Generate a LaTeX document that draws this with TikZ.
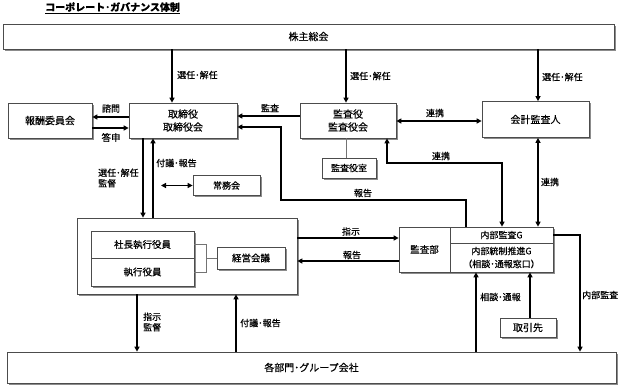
\documentclass[tikz,border=0pt]{standalone}
\usepackage{fontspec}
\setmainfont[FakeBold=0.35]{Noto Sans CJK JP}
\usetikzlibrary{arrows.meta,shadows}
\begin{document}
\begin{tikzpicture}[x=1pt,y=-1pt,
  box/.style={draw=black!70, line width=0.7pt, fill=white, inner sep=0pt, align=center,
    font=\fontsize{10}{13}\selectfont,
    drop shadow={shadow xshift=1.5pt, shadow yshift=-1.5pt, fill=black!45, opacity=1}},
  pbox/.style={draw=black!70, line width=0.7pt, fill=white, inner sep=0pt, align=center,
    font=\fontsize{9.5}{13}\selectfont},
  arr/.style={line width=1.4pt, -{Triangle[length=5pt,width=5pt]}},
  darr/.style={line width=1.4pt, {Triangle[length=5pt,width=5pt]}-{Triangle[length=5pt,width=5pt]}},
  lab/.style={font=\fontsize{9}{10.5}\selectfont, inner sep=0pt, align=left},
  gline/.style={draw=black!55, line width=0.5pt}]
\useasboundingbox (0,0) rectangle (620,388);

% title
\node[anchor=west, inner sep=0pt, font=\bfseries\fontsize{10}{12}\selectfont] (title) at (45,8) {\underline{コーポレート･ガバナンス体制}};

% boxes
\node[box, minimum width=611pt, minimum height=25pt] (kabu) at (308.5,36.5) {株主総会};
\node[box, minimum width=84pt, minimum height=35pt] (hoshu) at (50,120.5) {報酬委員会};
\node[box, minimum width=108pt, minimum height=35pt] (tori) at (183,120.5) {取締役\\取締役会};
\node[box, minimum width=96pt, minimum height=35pt] (kansa) at (348,120.5) {監査役\\監査役会};
\node[box, minimum width=107pt, minimum height=36pt] (kaikei) at (535.5,119.5) {会計監査人};
\node[box, minimum width=54pt, minimum height=20pt, font=\fontsize{9}{11}\selectfont] (shitsu) at (349,168) {監査役室};
\node[box, minimum width=67pt, minimum height=20pt, font=\fontsize{9}{11}\selectfont] (jomu) at (226.5,185.5) {常務会};

\node[box, minimum width=220pt, minimum height=76pt] (exec) at (187,256) {};
\node[box, minimum width=103pt, minimum height=55pt] (execin) at (142.5,258.5) {};
\node[pbox, minimum width=103pt, minimum height=27pt] (pres) at (142.5,244.5) {社長執行役員};
\node[pbox, minimum width=103pt, minimum height=28pt] (yakuin) at (142.5,272) {執行役員};
\node[box, minimum width=68pt, minimum height=22pt, font=\fontsize{9.5}{12}\selectfont] (keiei) at (251,258) {経営会議};

\node[box, minimum width=154pt, minimum height=45pt] (kbox) at (476,249.5) {};
\node[pbox, minimum width=51pt, minimum height=45pt] (kansabu) at (424.5,249.5) {監査部};
\node[pbox, minimum width=103pt, minimum height=16pt, font=\fontsize{9}{11}\selectfont] (naibu) at (501.5,235) {内部監査G};
\node[pbox, minimum width=103pt, minimum height=29pt, font=\fontsize{9}{13}\selectfont] (tosei) at (501.5,257.5) {内部統制推進G\\（相談･通報窓口）};

\node[box, minimum width=56pt, minimum height=19pt] (torihiki) at (528,327.5) {取引先};
\node[box, minimum width=609pt, minimum height=31pt] (kakubu) at (311.5,367.5) {各部門･グループ会社};

% helper coordinates
\coordinate (x172) at (172,0);
\coordinate (x346) at (346,0);
\coordinate (x538) at (538,0);
\coordinate (x143) at (143,0);
\coordinate (x153) at (153,0);
\coordinate (x137) at (137,0);
\coordinate (x236) at (236,0);
\coordinate (x476) at (476,0);
\coordinate (x530) at (530,0);
\coordinate (y118) at (0,117);
\coordinate (y128) at (0,128);
\coordinate (y116) at (0,116);
\coordinate (y121) at (0,121);
\coordinate (y238) at (0,238);
\coordinate (y261) at (0,261);
\coordinate (jl) at (161,185.5);
\coordinate (r1) at (466,200);
\coordinate (r2) at (281,200);
\coordinate (r3) at (281,127);
\coordinate (c1) at (502,163);
\coordinate (c2) at (387,163);
\coordinate (d1) at (580,235);
\coordinate (b1) at (206,244.5);
\coordinate (b2) at (206,272);

% thin connectors
\draw[gline] (kansa.south -| x346) -- (shitsu.north -| x346);
\draw[gline] (pres.east) -- (b1) -- (b2) -- (yakuin.east);
\draw[gline] (keiei.west -| b1) -- (keiei.west);

% arrows
\draw[arr] (kabu.south -| x172) -- (tori.north -| x172);
\draw[arr] (kabu.south -| x346) -- (kansa.north -| x346);
\draw[arr] (kabu.south -| x538) -- (kaikei.north -| x538);
\draw[arr] (tori.west |- y118) -- (hoshu.east |- y118);
\draw[arr] (hoshu.east |- y128) -- (tori.west |- y128);
\draw[arr] (kansa.west |- y116) -- (tori.east |- y116);
\draw[darr] (kansa.east |- y121) -- (kaikei.west |- y121);
\draw[arr] (tori.south -| x143) -- (exec.north -| x143);
\draw[arr] (exec.north -| x153) -- (tori.south -| x153);
\draw[darr] (jl) -- (jomu.west);
\draw[arr] (exec.south -| x137) -- (kakubu.north -| x137);
\draw[arr] (kakubu.north -| x236) -- (exec.south -| x236);
\draw[arr] (exec.east |- y238) -- (kansabu.west |- y238);
\draw[arr] (kansabu.west |- y261) -- (exec.east |- y261);
\draw[arr] (naibu.north -| r1) -- (r1) -- (r2) -- (r3) -- (tori.east |- r3);
\draw[darr] (kansa.south -| c2) -- (c2) -- (c1) -- (naibu.north -| c1);
\draw[darr] (kaikei.south -| x538) -- (naibu.north -| x538);
\draw[arr] (naibu.east) -- (d1) -- (kakubu.north -| d1);
\draw[arr] (kakubu.north -| x476) -- (tosei.south -| x476);
\draw[arr] (torihiki.north -| x530) -- (tosei.south -| x530);

% labels
\node[lab, anchor=west] (l1) at (177,75) {選任･解任};
\node[lab, anchor=west] (l2) at (350,76) {選任･解任};
\node[lab, anchor=west] (l3) at (542,77) {選任･解任};
\node[lab] (l4) at (111,108.5) {諮問};
\node[lab, font=\fontsize{9.5}{10}\selectfont] (l5) at (111,137.5) {答申};
\node[lab] (l6) at (270,108) {監査};
\node[lab] (l7) at (435,113) {連携};
\node[lab, anchor=west] (l8) at (98,178) {選任･解任\\監督};
\node[lab, anchor=west] (l9) at (156,163) {付議･報告};
\node[lab, anchor=west] (l10) at (143,322) {指示\\監督};
\node[lab, anchor=west] (l11) at (240,323) {付議･報告};
\node[lab] (l12) at (351,231.5) {指示};
\node[lab] (l13) at (352,255) {報告};
\node[lab] (l14) at (363,193) {報告};
\node[lab] (l15) at (441,156) {連携};
\node[lab] (l16) at (550,182) {連携};
\node[lab, anchor=west] (l17) at (582,295) {内部監査};
\node[lab, anchor=west] (l18) at (480,297) {相談･通報};
\end{tikzpicture}
\end{document}
